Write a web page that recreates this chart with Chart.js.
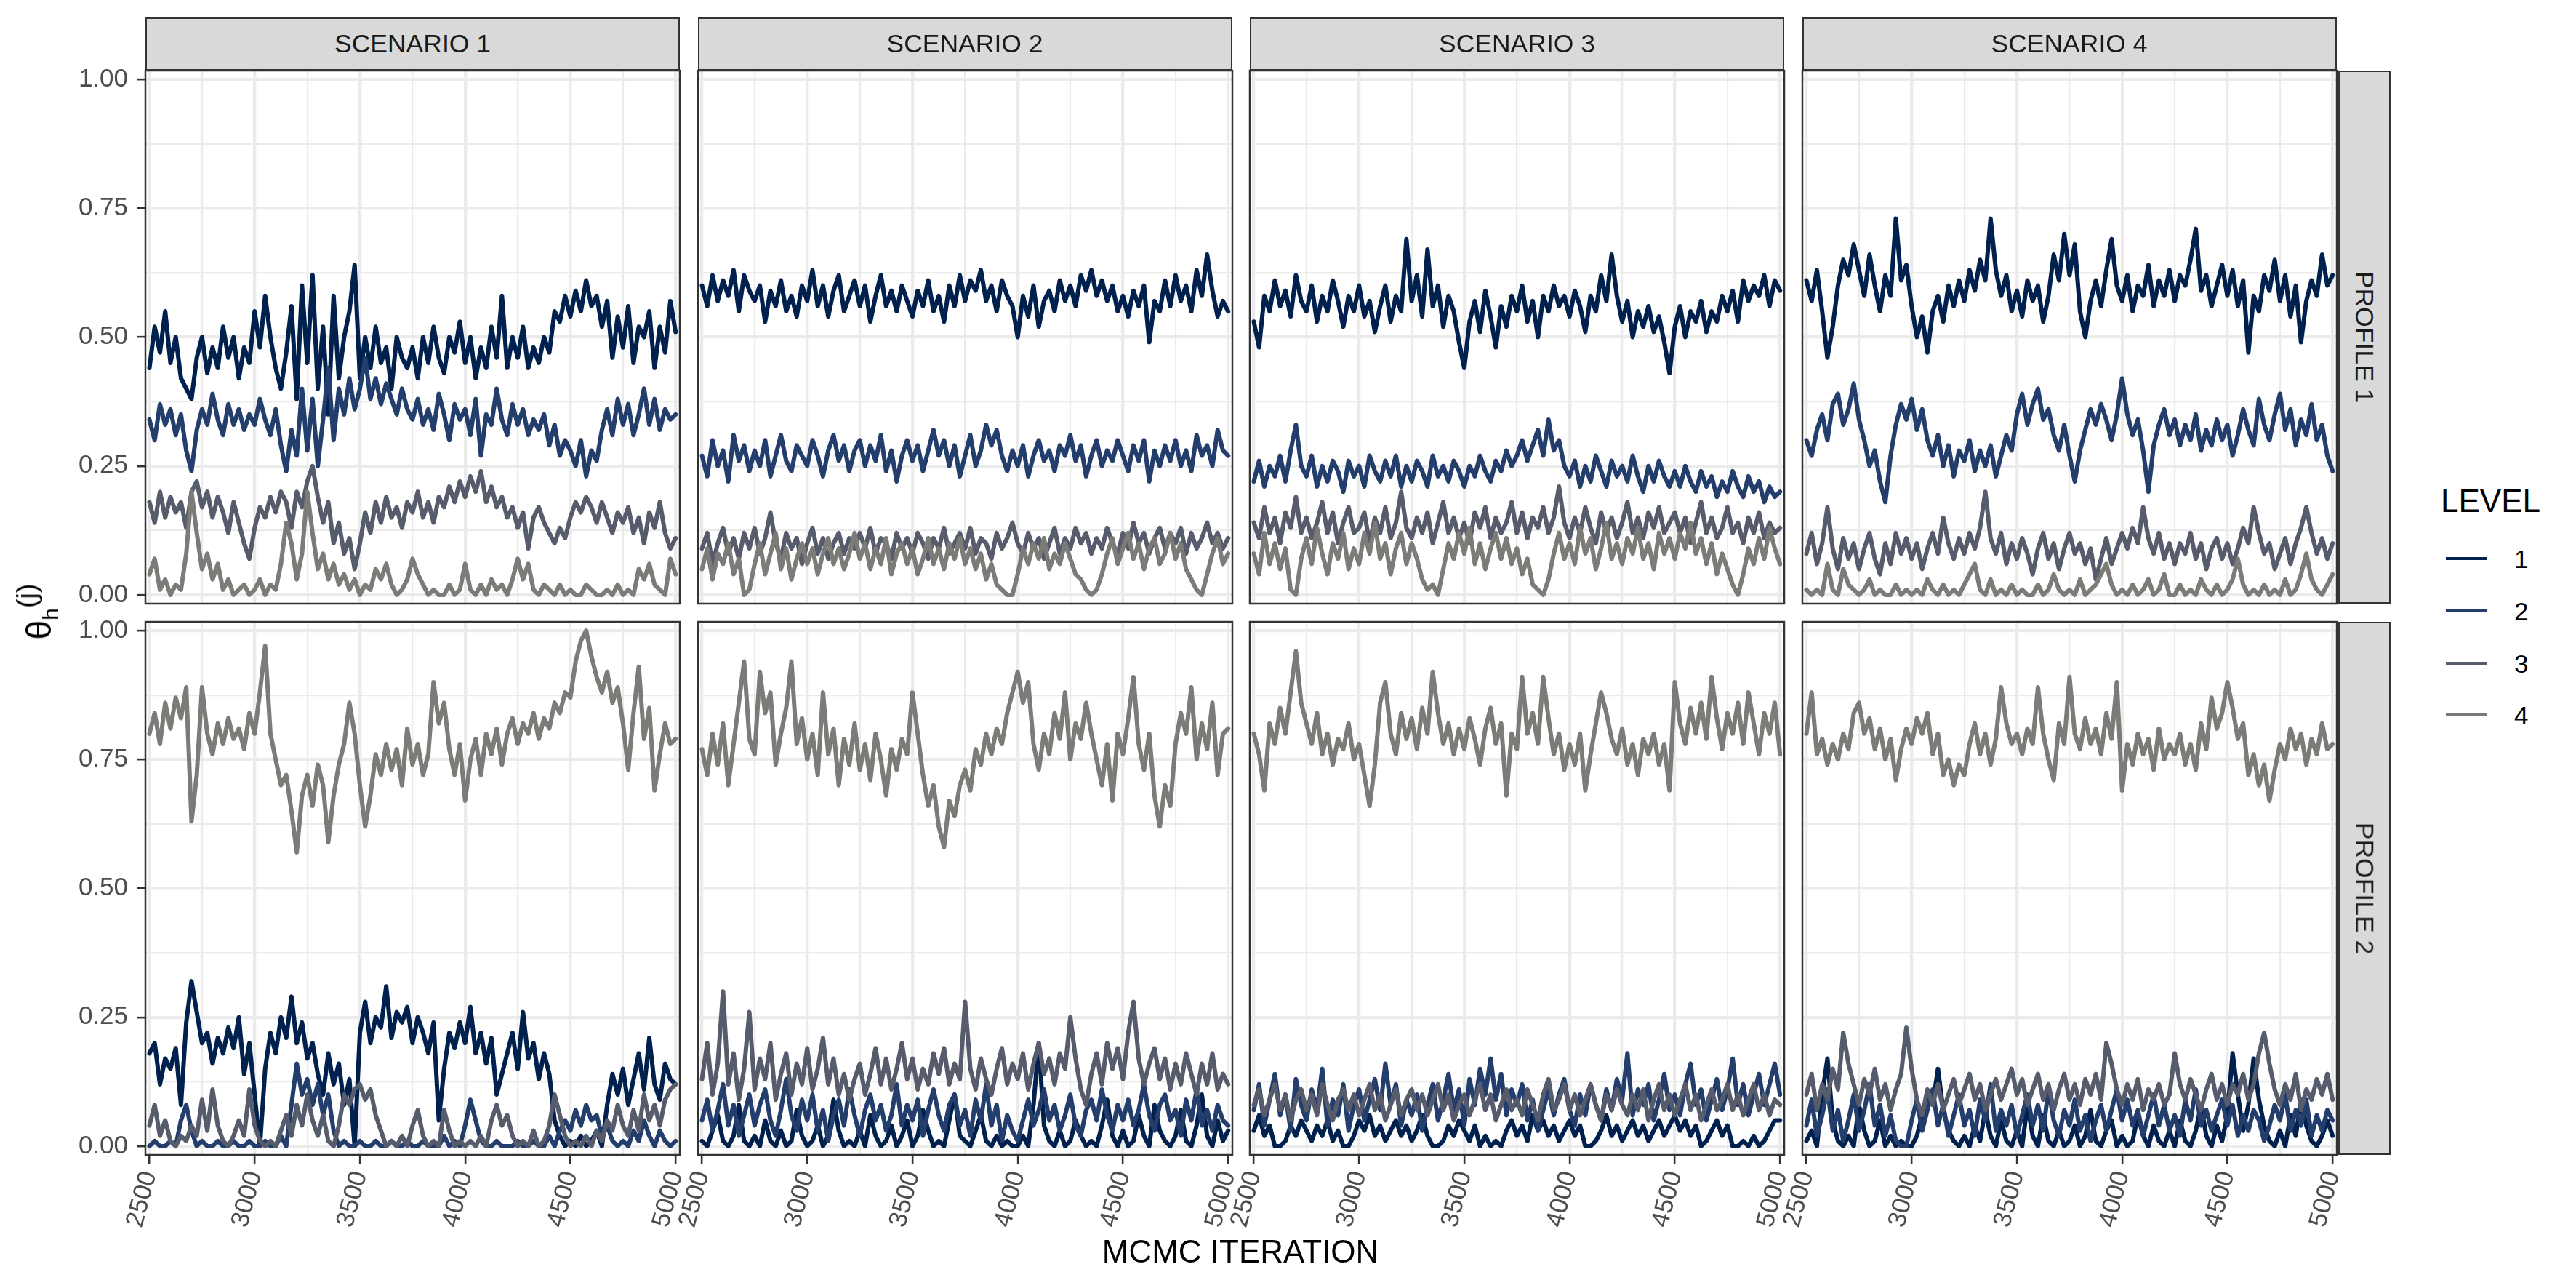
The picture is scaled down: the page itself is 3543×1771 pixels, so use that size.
<!DOCTYPE html>
<html><head><meta charset="utf-8">
<script src="https://cdn.jsdelivr.net/npm/chart.js@4.4.1/dist/chart.umd.min.js"></script>
<style>
html,body{margin:0;padding:0;background:#fff;}
#root{position:relative;width:3543px;height:1771px;overflow:hidden;background:#fff;font-family:"Liberation Sans",Arial,Helvetica,sans-serif;}
.strip{position:absolute;background:#D9D9D9;border:2.5px solid #333;box-sizing:border-box;color:#1A1A1A;font-size:35.5px;display:flex;align-items:center;justify-content:center;white-space:nowrap;}
.vstrip span{display:block;transform:rotate(90deg);}
canvas{position:absolute;}
.lg{position:absolute;white-space:nowrap;color:#000;}
</style></head>
<body><div id="root"></div>
<script>
// ---------------- DATA ----------------
const ITER = [2500,2525,2550,2575,2600,2625,2650,2675,2700,2725,2750,2775,2800,2825,2850,2875,2900,2925,2950,2975,3000,3025,3050,3075,3100,3125,3150,3175,3200,3225,3250,3275,3300,3325,3350,3375,3400,3425,3450,3475,3500,3525,3550,3575,3600,3625,3650,3675,3700,3725,3750,3775,3800,3825,3850,3875,3900,3925,3950,3975,4000,4025,4050,4075,4100,4125,4150,4175,4200,4225,4250,4275,4300,4325,4350,4375,4400,4425,4450,4475,4500,4525,4550,4575,4600,4625,4650,4675,4700,4725,4750,4775,4800,4825,4850,4875,4900,4925,4950,4975,5000];
const SCENARIOS = ["SCENARIO 1","SCENARIO 2","SCENARIO 3","SCENARIO 4"];
const PROFILES = ["PROFILE 1","PROFILE 2"];
const LEVELS = ["1","2","3","4"];
const X_TICKS = [2500,2750,3000,3250,3500,3750,4000,4250,4500,4750,5000];
const Y_TICKS = [0,0.125,0.25,0.375,0.5,0.625,0.75,0.875,1];

// Scenario 1, Profile 1
const S1P1_L1 = [0.44,0.52,0.47,0.55,0.45,0.50,0.42,0.40,0.38,0.46,0.50,0.43,0.48,0.44,0.52,0.46,0.50,0.42,0.48,0.45,0.55,0.48,0.58,0.50,0.44,0.40,0.47,0.56,0.38,0.60,0.45,0.62,0.40,0.52,0.35,0.58,0.42,0.50,0.55,0.64,0.42,0.50,0.44,0.52,0.45,0.48,0.40,0.50,0.46,0.44,0.48,0.42,0.50,0.45,0.52,0.46,0.43,0.50,0.47,0.53,0.45,0.50,0.42,0.48,0.44,0.52,0.46,0.58,0.44,0.50,0.46,0.52,0.44,0.48,0.45,0.50,0.47,0.55,0.53,0.58,0.54,0.59,0.55,0.61,0.56,0.58,0.52,0.57,0.46,0.54,0.48,0.56,0.45,0.52,0.50,0.55,0.44,0.52,0.47,0.57,0.51];
const S1P1_L2 = [0.34,0.30,0.37,0.33,0.36,0.31,0.35,0.28,0.24,0.32,0.36,0.33,0.39,0.34,0.31,0.37,0.33,0.36,0.32,0.35,0.33,0.38,0.34,0.31,0.36,0.29,0.24,0.32,0.27,0.40,0.28,0.38,0.25,0.34,0.44,0.30,0.40,0.35,0.42,0.36,0.40,0.46,0.38,0.42,0.37,0.41,0.38,0.35,0.40,0.36,0.34,0.38,0.33,0.36,0.32,0.39,0.35,0.30,0.37,0.34,0.36,0.31,0.38,0.27,0.35,0.33,0.40,0.34,0.31,0.37,0.33,0.36,0.31,0.34,0.32,0.35,0.29,0.33,0.27,0.30,0.28,0.25,0.30,0.23,0.28,0.26,0.32,0.36,0.31,0.38,0.33,0.37,0.31,0.35,0.40,0.33,0.38,0.32,0.36,0.34,0.35];
const S1P1_L3 = [0.18,0.14,0.20,0.15,0.19,0.16,0.18,0.13,0.20,0.22,0.17,0.20,0.15,0.19,0.16,0.12,0.18,0.14,0.10,0.07,0.13,0.17,0.15,0.19,0.16,0.20,0.18,0.13,0.20,0.17,0.22,0.25,0.19,0.14,0.18,0.10,0.14,0.08,0.11,0.05,0.10,0.16,0.12,0.18,0.14,0.19,0.15,0.17,0.13,0.18,0.16,0.20,0.15,0.18,0.14,0.19,0.17,0.21,0.18,0.22,0.19,0.23,0.20,0.24,0.18,0.21,0.17,0.19,0.15,0.17,0.13,0.16,0.09,0.15,0.17,0.14,0.12,0.10,0.13,0.11,0.15,0.18,0.16,0.19,0.17,0.14,0.18,0.15,0.12,0.16,0.14,0.17,0.12,0.15,0.10,0.16,0.13,0.18,0.12,0.09,0.11];
const S1P1_L4 = [0.04,0.07,0.01,0.03,0.00,0.02,0.01,0.08,0.20,0.12,0.05,0.08,0.03,0.06,0.01,0.03,0.00,0.01,0.02,0.00,0.01,0.03,0.00,0.02,0.01,0.06,0.14,0.10,0.03,0.08,0.20,0.12,0.05,0.08,0.03,0.06,0.02,0.04,0.01,0.03,0.00,0.02,0.01,0.05,0.03,0.06,0.02,0.00,0.01,0.03,0.07,0.04,0.02,0.00,0.01,0.00,0.00,0.02,0.00,0.01,0.06,0.01,0.00,0.02,0.00,0.03,0.01,0.02,0.00,0.03,0.07,0.03,0.06,0.01,0.00,0.02,0.01,0.00,0.02,0.00,0.01,0.00,0.00,0.02,0.01,0.00,0.00,0.01,0.00,0.02,0.00,0.01,0.00,0.05,0.03,0.06,0.02,0.01,0.00,0.07,0.04];
// Scenario 2, Profile 1
const S2P1_L1 = [0.60,0.56,0.62,0.57,0.61,0.58,0.63,0.55,0.62,0.59,0.57,0.60,0.53,0.59,0.56,0.61,0.55,0.58,0.54,0.60,0.57,0.63,0.56,0.60,0.54,0.59,0.62,0.55,0.58,0.61,0.56,0.60,0.53,0.58,0.62,0.56,0.59,0.55,0.60,0.57,0.54,0.59,0.56,0.61,0.55,0.58,0.53,0.60,0.56,0.62,0.57,0.61,0.59,0.63,0.57,0.60,0.55,0.61,0.58,0.56,0.50,0.58,0.54,0.60,0.52,0.57,0.59,0.55,0.61,0.57,0.60,0.56,0.62,0.59,0.63,0.58,0.61,0.57,0.60,0.55,0.58,0.54,0.59,0.56,0.60,0.49,0.57,0.55,0.61,0.56,0.62,0.57,0.60,0.55,0.63,0.58,0.66,0.59,0.54,0.57,0.55];
const S2P1_L2 = [0.27,0.23,0.30,0.25,0.28,0.22,0.31,0.26,0.29,0.24,0.28,0.25,0.30,0.23,0.27,0.31,0.26,0.24,0.29,0.27,0.25,0.30,0.27,0.23,0.28,0.31,0.26,0.29,0.24,0.28,0.30,0.25,0.29,0.26,0.31,0.24,0.28,0.22,0.27,0.30,0.26,0.29,0.24,0.28,0.32,0.27,0.30,0.25,0.29,0.23,0.27,0.31,0.25,0.28,0.33,0.29,0.32,0.27,0.24,0.28,0.25,0.29,0.23,0.27,0.30,0.26,0.28,0.24,0.29,0.27,0.31,0.26,0.29,0.23,0.27,0.30,0.25,0.28,0.26,0.30,0.27,0.24,0.29,0.26,0.30,0.22,0.28,0.25,0.29,0.26,0.30,0.25,0.28,0.24,0.31,0.27,0.29,0.25,0.32,0.28,0.27];
const S2P1_L3 = [0.09,0.12,0.06,0.10,0.13,0.08,0.11,0.07,0.12,0.09,0.13,0.08,0.11,0.16,0.10,0.07,0.12,0.09,0.11,0.06,0.10,0.13,0.08,0.11,0.07,0.10,0.12,0.08,0.11,0.09,0.12,0.09,0.13,0.08,0.11,0.10,0.07,0.12,0.09,0.11,0.08,0.12,0.10,0.07,0.11,0.09,0.13,0.08,0.10,0.12,0.09,0.13,0.08,0.11,0.10,0.07,0.12,0.09,0.11,0.14,0.10,0.08,0.12,0.09,0.11,0.07,0.10,0.13,0.08,0.11,0.09,0.13,0.10,0.12,0.08,0.11,0.09,0.13,0.10,0.08,0.12,0.09,0.14,0.10,0.12,0.08,0.11,0.13,0.09,0.12,0.10,0.13,0.08,0.12,0.09,0.11,0.14,0.10,0.12,0.09,0.11];
const S2P1_L4 = [0.05,0.09,0.03,0.08,0.06,0.10,0.04,0.07,0.00,0.01,0.06,0.10,0.04,0.08,0.12,0.05,0.09,0.03,0.07,0.10,0.06,0.09,0.04,0.08,0.11,0.06,0.09,0.05,0.08,0.12,0.07,0.10,0.05,0.09,0.06,0.11,0.04,0.08,0.10,0.06,0.09,0.04,0.07,0.11,0.06,0.09,0.05,0.10,0.07,0.11,0.06,0.09,0.05,0.08,0.03,0.06,0.02,0.01,0.00,0.00,0.04,0.09,0.06,0.10,0.07,0.11,0.05,0.08,0.06,0.10,0.07,0.04,0.03,0.01,0.00,0.01,0.04,0.08,0.11,0.06,0.09,0.12,0.07,0.10,0.05,0.09,0.11,0.06,0.08,0.12,0.07,0.10,0.05,0.03,0.01,0.00,0.04,0.08,0.11,0.06,0.08];
// Scenario 3, Profile 1
const S3P1_L1 = [0.53,0.48,0.58,0.55,0.61,0.56,0.59,0.54,0.62,0.57,0.55,0.60,0.53,0.58,0.55,0.61,0.57,0.52,0.58,0.55,0.60,0.54,0.57,0.51,0.56,0.60,0.53,0.58,0.55,0.69,0.57,0.62,0.54,0.67,0.56,0.60,0.52,0.58,0.55,0.49,0.44,0.53,0.57,0.51,0.59,0.54,0.48,0.56,0.52,0.58,0.55,0.60,0.53,0.57,0.50,0.58,0.55,0.60,0.56,0.58,0.54,0.59,0.56,0.51,0.58,0.55,0.62,0.57,0.66,0.58,0.53,0.57,0.50,0.55,0.52,0.56,0.51,0.54,0.49,0.43,0.52,0.56,0.50,0.55,0.53,0.57,0.51,0.55,0.53,0.58,0.55,0.59,0.53,0.61,0.57,0.60,0.58,0.62,0.56,0.61,0.59];
const S3P1_L2 = [0.22,0.26,0.21,0.25,0.23,0.27,0.22,0.28,0.33,0.25,0.23,0.27,0.21,0.25,0.22,0.26,0.24,0.20,0.26,0.23,0.25,0.21,0.27,0.24,0.22,0.26,0.23,0.27,0.21,0.25,0.22,0.26,0.24,0.21,0.27,0.23,0.25,0.22,0.26,0.24,0.21,0.25,0.23,0.27,0.24,0.22,0.26,0.24,0.28,0.25,0.27,0.30,0.26,0.29,0.32,0.27,0.34,0.28,0.30,0.25,0.23,0.26,0.21,0.25,0.22,0.27,0.24,0.21,0.26,0.23,0.25,0.22,0.27,0.23,0.20,0.25,0.22,0.26,0.23,0.21,0.24,0.21,0.25,0.22,0.20,0.24,0.21,0.23,0.19,0.22,0.20,0.24,0.21,0.19,0.23,0.20,0.22,0.18,0.21,0.19,0.20];
const S3P1_L3 = [0.14,0.11,0.17,0.12,0.15,0.10,0.16,0.13,0.19,0.12,0.15,0.11,0.14,0.18,0.12,0.16,0.10,0.14,0.17,0.12,0.13,0.16,0.10,0.15,0.12,0.17,0.11,0.14,0.20,0.13,0.11,0.15,0.12,0.16,0.10,0.14,0.18,0.12,0.15,0.11,0.14,0.10,0.16,0.13,0.17,0.11,0.15,0.12,0.14,0.18,0.12,0.16,0.11,0.15,0.13,0.17,0.12,0.15,0.21,0.14,0.11,0.15,0.12,0.17,0.13,0.10,0.16,0.12,0.15,0.11,0.14,0.18,0.12,0.15,0.11,0.16,0.13,0.17,0.12,0.14,0.16,0.12,0.15,0.10,0.14,0.18,0.12,0.15,0.11,0.13,0.17,0.12,0.14,0.10,0.15,0.12,0.16,0.11,0.14,0.12,0.13];
const S3P1_L4 = [0.08,0.04,0.12,0.06,0.10,0.05,0.09,0.01,0.00,0.07,0.11,0.06,0.13,0.08,0.04,0.10,0.07,0.12,0.05,0.09,0.06,0.12,0.08,0.14,0.07,0.10,0.04,0.09,0.12,0.06,0.10,0.07,0.03,0.01,0.02,0.00,0.05,0.10,0.07,0.12,0.08,0.13,0.06,0.10,0.05,0.09,0.12,0.07,0.11,0.06,0.09,0.04,0.07,0.02,0.01,0.00,0.03,0.08,0.12,0.07,0.10,0.06,0.13,0.08,0.11,0.05,0.09,0.14,0.07,0.10,0.06,0.11,0.08,0.13,0.07,0.10,0.05,0.12,0.08,0.11,0.07,0.12,0.09,0.14,0.08,0.11,0.06,0.10,0.04,0.08,0.05,0.02,0.00,0.04,0.09,0.06,0.11,0.07,0.13,0.09,0.06];
// Scenario 4, Profile 1
const S4P1_L1 = [0.61,0.57,0.63,0.55,0.46,0.52,0.60,0.65,0.62,0.68,0.63,0.58,0.66,0.60,0.55,0.62,0.58,0.73,0.61,0.64,0.56,0.50,0.54,0.47,0.55,0.58,0.53,0.60,0.56,0.61,0.57,0.63,0.59,0.65,0.61,0.73,0.63,0.58,0.62,0.55,0.59,0.54,0.61,0.57,0.60,0.53,0.58,0.66,0.61,0.70,0.62,0.68,0.55,0.50,0.57,0.61,0.56,0.63,0.69,0.60,0.57,0.62,0.55,0.60,0.58,0.64,0.56,0.61,0.58,0.63,0.57,0.62,0.60,0.65,0.71,0.59,0.62,0.56,0.60,0.64,0.58,0.63,0.56,0.61,0.47,0.58,0.55,0.62,0.59,0.65,0.57,0.62,0.54,0.60,0.49,0.57,0.61,0.58,0.66,0.60,0.62];
const S4P1_L2 = [0.30,0.27,0.32,0.35,0.30,0.37,0.39,0.33,0.36,0.41,0.34,0.30,0.25,0.28,0.22,0.18,0.27,0.33,0.37,0.34,0.38,0.32,0.36,0.30,0.27,0.31,0.25,0.29,0.23,0.28,0.26,0.30,0.24,0.28,0.25,0.29,0.23,0.27,0.31,0.28,0.35,0.39,0.33,0.37,0.40,0.34,0.36,0.31,0.28,0.33,0.27,0.22,0.28,0.32,0.36,0.33,0.37,0.34,0.30,0.35,0.42,0.35,0.31,0.34,0.28,0.20,0.29,0.33,0.36,0.31,0.34,0.29,0.33,0.30,0.35,0.28,0.32,0.29,0.34,0.30,0.33,0.27,0.31,0.36,0.32,0.29,0.38,0.33,0.30,0.35,0.39,0.32,0.36,0.29,0.34,0.31,0.37,0.30,0.33,0.27,0.24];
const S4P1_L3 = [0.08,0.12,0.06,0.10,0.17,0.09,0.05,0.11,0.07,0.10,0.05,0.09,0.12,0.07,0.04,0.10,0.06,0.12,0.08,0.11,0.07,0.10,0.05,0.09,0.12,0.08,0.15,0.10,0.07,0.11,0.08,0.12,0.09,0.13,0.20,0.11,0.08,0.12,0.06,0.10,0.07,0.11,0.08,0.04,0.09,0.12,0.07,0.10,0.05,0.09,0.12,0.08,0.10,0.06,0.09,0.03,0.07,0.11,0.06,0.09,0.12,0.09,0.13,0.10,0.17,0.11,0.08,0.12,0.07,0.10,0.06,0.10,0.08,0.12,0.07,0.10,0.05,0.09,0.11,0.07,0.10,0.06,0.09,0.13,0.10,0.17,0.12,0.08,0.10,0.05,0.08,0.11,0.06,0.10,0.13,0.17,0.12,0.08,0.11,0.07,0.10];
const S4P1_L4 = [0.01,0.00,0.01,0.00,0.06,0.01,0.00,0.05,0.02,0.01,0.00,0.01,0.03,0.00,0.01,0.00,0.00,0.02,0.00,0.01,0.00,0.01,0.00,0.03,0.01,0.00,0.02,0.00,0.01,0.00,0.02,0.04,0.06,0.01,0.00,0.03,0.00,0.01,0.00,0.02,0.00,0.01,0.00,0.00,0.02,0.00,0.01,0.04,0.01,0.00,0.01,0.00,0.03,0.00,0.01,0.02,0.04,0.06,0.02,0.00,0.01,0.00,0.02,0.00,0.01,0.03,0.00,0.01,0.04,0.00,0.00,0.02,0.00,0.01,0.00,0.03,0.01,0.00,0.02,0.00,0.01,0.03,0.07,0.02,0.00,0.01,0.00,0.02,0.00,0.01,0.00,0.03,0.00,0.01,0.04,0.08,0.03,0.01,0.00,0.02,0.04];
// Scenario 1, Profile 2
const S1P2_L1 = [0.18,0.20,0.12,0.17,0.15,0.19,0.08,0.24,0.32,0.26,0.20,0.22,0.16,0.21,0.18,0.23,0.19,0.25,0.14,0.20,0.10,0.00,0.15,0.22,0.18,0.25,0.21,0.29,0.20,0.24,0.17,0.20,0.14,0.10,0.18,0.12,0.16,0.08,0.13,0.00,0.22,0.28,0.20,0.25,0.23,0.31,0.21,0.26,0.24,0.27,0.20,0.25,0.22,0.18,0.24,0.05,0.15,0.22,0.19,0.24,0.20,0.27,0.18,0.22,0.16,0.21,0.10,0.14,0.18,0.22,0.15,0.26,0.17,0.20,0.13,0.18,0.14,0.05,0.02,0.00,0.01,0.00,0.02,0.00,0.01,0.03,0.00,0.08,0.14,0.10,0.15,0.08,0.13,0.18,0.11,0.21,0.12,0.09,0.16,0.13,0.12];
const S1P2_L2 = [0.00,0.01,0.00,0.00,0.01,0.00,0.05,0.08,0.03,0.00,0.01,0.00,0.00,0.01,0.00,0.00,0.01,0.00,0.00,0.01,0.00,0.00,0.01,0.00,0.00,0.02,0.00,0.08,0.16,0.10,0.13,0.08,0.12,0.06,0.10,0.03,0.00,0.01,0.00,0.00,0.01,0.00,0.00,0.01,0.00,0.00,0.01,0.00,0.00,0.01,0.00,0.00,0.01,0.00,0.00,0.00,0.02,0.00,0.01,0.00,0.04,0.09,0.05,0.01,0.00,0.00,0.01,0.00,0.00,0.00,0.01,0.00,0.00,0.01,0.00,0.00,0.02,0.00,0.03,0.05,0.03,0.07,0.04,0.08,0.05,0.06,0.02,0.04,0.01,0.00,0.01,0.00,0.03,0.01,0.05,0.02,0.00,0.03,0.01,0.00,0.01];
const S1P2_L3 = [0.04,0.08,0.02,0.05,0.01,0.00,0.02,0.01,0.04,0.02,0.09,0.03,0.11,0.04,0.01,0.00,0.02,0.05,0.02,0.11,0.04,0.01,0.00,0.01,0.00,0.03,0.06,0.02,0.08,0.04,0.10,0.05,0.02,0.06,0.01,0.00,0.04,0.10,0.08,0.11,0.12,0.09,0.11,0.06,0.03,0.00,0.01,0.00,0.02,0.00,0.04,0.07,0.02,0.00,0.01,0.00,0.07,0.03,0.00,0.01,0.00,0.01,0.00,0.02,0.00,0.05,0.08,0.04,0.06,0.02,0.00,0.01,0.00,0.03,0.00,0.01,0.04,0.10,0.06,0.02,0.00,0.01,0.00,0.02,0.00,0.03,0.01,0.05,0.03,0.08,0.04,0.02,0.07,0.03,0.10,0.05,0.08,0.04,0.09,0.11,0.12];
const S1P2_L4 = [0.80,0.84,0.78,0.86,0.81,0.87,0.83,0.89,0.63,0.72,0.89,0.80,0.76,0.82,0.78,0.83,0.79,0.81,0.77,0.84,0.80,0.88,0.97,0.80,0.75,0.70,0.72,0.65,0.57,0.68,0.72,0.66,0.74,0.70,0.59,0.68,0.74,0.78,0.86,0.80,0.70,0.62,0.68,0.76,0.72,0.78,0.73,0.77,0.70,0.81,0.74,0.78,0.72,0.76,0.90,0.82,0.86,0.77,0.72,0.78,0.67,0.75,0.79,0.72,0.80,0.76,0.81,0.74,0.80,0.83,0.78,0.82,0.80,0.84,0.79,0.83,0.81,0.86,0.84,0.88,0.87,0.94,0.98,1.00,0.95,0.91,0.88,0.92,0.86,0.89,0.82,0.73,0.84,0.93,0.79,0.85,0.69,0.76,0.82,0.78,0.79];
// Scenario 2, Profile 2
const S2P2_L1 = [0.01,0.00,0.03,0.06,0.01,0.00,0.02,0.08,0.01,0.00,0.02,0.00,0.05,0.01,0.00,0.03,0.00,0.01,0.07,0.02,0.00,0.01,0.04,0.00,0.02,0.09,0.03,0.00,0.01,0.00,0.03,0.00,0.06,0.02,0.00,0.01,0.04,0.00,0.02,0.05,0.00,0.02,0.07,0.03,0.00,0.01,0.00,0.05,0.10,0.02,0.01,0.00,0.03,0.06,0.01,0.00,0.02,0.00,0.01,0.00,0.00,0.02,0.00,0.08,0.20,0.04,0.01,0.00,0.03,0.00,0.01,0.05,0.02,0.00,0.01,0.00,0.04,0.09,0.02,0.00,0.03,0.00,0.01,0.06,0.02,0.00,0.08,0.03,0.01,0.00,0.02,0.07,0.01,0.00,0.04,0.10,0.02,0.00,0.05,0.01,0.03];
const S2P2_L2 = [0.05,0.09,0.03,0.07,0.12,0.04,0.08,0.02,0.06,0.10,0.04,0.08,0.11,0.05,0.02,0.07,0.13,0.06,0.03,0.09,0.05,0.10,0.03,0.07,0.01,0.06,0.09,0.04,0.11,0.06,0.02,0.07,0.10,0.05,0.08,0.03,0.06,0.12,0.04,0.08,0.05,0.09,0.02,0.07,0.11,0.06,0.03,0.08,0.10,0.04,0.07,0.02,0.09,0.05,0.12,0.04,0.08,0.01,0.06,0.03,0.01,0.05,0.09,0.04,0.07,0.11,0.05,0.08,0.03,0.06,0.10,0.04,0.02,0.07,0.09,0.05,0.11,0.06,0.03,0.08,0.05,0.09,0.04,0.07,0.12,0.06,0.03,0.08,0.10,0.05,0.07,0.02,0.09,0.05,0.11,0.04,0.07,0.03,0.08,0.05,0.04];
const S2P2_L3 = [0.13,0.20,0.10,0.16,0.30,0.12,0.18,0.09,0.15,0.26,0.11,0.17,0.13,0.20,0.09,0.14,0.18,0.10,0.16,0.12,0.19,0.11,0.15,0.21,0.12,0.17,0.10,0.14,0.09,0.13,0.16,0.10,0.14,0.19,0.12,0.17,0.11,0.15,0.20,0.13,0.17,0.11,0.15,0.12,0.18,0.14,0.19,0.12,0.16,0.13,0.28,0.15,0.11,0.17,0.13,0.10,0.15,0.19,0.12,0.16,0.13,0.18,0.11,0.16,0.20,0.14,0.17,0.12,0.18,0.15,0.25,0.17,0.11,0.08,0.14,0.18,0.12,0.20,0.15,0.19,0.13,0.22,0.28,0.17,0.12,0.16,0.19,0.13,0.17,0.11,0.16,0.12,0.18,0.14,0.10,0.16,0.12,0.18,0.11,0.14,0.12];
const S2P2_L4 = [0.77,0.72,0.80,0.74,0.82,0.70,0.78,0.86,0.94,0.79,0.76,0.92,0.84,0.88,0.74,0.80,0.85,0.94,0.78,0.83,0.75,0.80,0.72,0.88,0.76,0.81,0.70,0.79,0.74,0.82,0.73,0.78,0.71,0.80,0.75,0.68,0.77,0.73,0.79,0.76,0.88,0.80,0.72,0.66,0.70,0.62,0.58,0.67,0.64,0.70,0.73,0.69,0.77,0.74,0.80,0.76,0.81,0.78,0.84,0.88,0.92,0.86,0.90,0.78,0.73,0.80,0.76,0.84,0.79,0.88,0.75,0.82,0.79,0.86,0.80,0.75,0.70,0.78,0.67,0.80,0.76,0.83,0.91,0.78,0.73,0.80,0.68,0.62,0.70,0.66,0.78,0.84,0.80,0.89,0.75,0.82,0.77,0.86,0.72,0.80,0.81];
// Scenario 3, Profile 2
const S3P2_L1 = [0.03,0.06,0.02,0.04,0.00,0.00,0.01,0.04,0.02,0.05,0.03,0.01,0.04,0.02,0.05,0.01,0.03,0.00,0.00,0.02,0.05,0.03,0.06,0.02,0.04,0.01,0.03,0.05,0.02,0.04,0.01,0.03,0.06,0.02,0.00,0.00,0.01,0.04,0.02,0.05,0.03,0.01,0.04,0.00,0.02,0.00,0.01,0.00,0.03,0.05,0.02,0.04,0.01,0.06,0.03,0.05,0.02,0.04,0.01,0.03,0.05,0.02,0.04,0.00,0.00,0.01,0.03,0.06,0.02,0.04,0.01,0.03,0.05,0.02,0.04,0.01,0.03,0.05,0.02,0.04,0.06,0.03,0.05,0.02,0.04,0.00,0.01,0.03,0.05,0.02,0.04,0.00,0.00,0.01,0.00,0.02,0.00,0.01,0.03,0.05,0.05];
const S3P2_L2 = [0.07,0.12,0.04,0.09,0.14,0.06,0.10,0.03,0.13,0.08,0.05,0.11,0.07,0.15,0.04,0.09,0.06,0.12,0.03,0.08,0.11,0.05,0.09,0.13,0.07,0.16,0.08,0.12,0.04,0.09,0.06,0.10,0.03,0.08,0.12,0.05,0.09,0.14,0.07,0.11,0.04,0.13,0.08,0.15,0.10,0.17,0.09,0.14,0.06,0.11,0.08,0.12,0.05,0.09,0.03,0.07,0.11,0.06,0.10,0.13,0.07,0.04,0.10,0.06,0.12,0.08,0.05,0.11,0.07,0.13,0.09,0.18,0.06,0.11,0.08,0.12,0.05,0.09,0.14,0.07,0.10,0.06,0.12,0.16,0.08,0.11,0.05,0.09,0.13,0.07,0.11,0.17,0.08,0.12,0.06,0.10,0.14,0.08,0.12,0.16,0.10];
const S3P2_L3 = [0.08,0.11,0.06,0.09,0.12,0.07,0.10,0.05,0.09,0.11,0.07,0.10,0.06,0.12,0.08,0.05,0.09,0.11,0.07,0.10,0.06,0.09,0.12,0.07,0.10,0.05,0.08,0.11,0.06,0.09,0.11,0.07,0.10,0.06,0.09,0.12,0.07,0.10,0.05,0.08,0.10,0.06,0.09,0.12,0.07,0.10,0.05,0.08,0.11,0.07,0.09,0.06,0.11,0.08,0.05,0.10,0.13,0.07,0.09,0.12,0.07,0.10,0.06,0.09,0.12,0.08,0.05,0.10,0.07,0.11,0.08,0.06,0.10,0.07,0.11,0.05,0.09,0.12,0.07,0.10,0.06,0.09,0.12,0.07,0.10,0.05,0.08,0.11,0.07,0.09,0.12,0.07,0.10,0.06,0.09,0.12,0.07,0.10,0.06,0.09,0.08];
const S3P2_L4 = [0.80,0.76,0.69,0.82,0.78,0.85,0.80,0.88,0.96,0.86,0.82,0.78,0.84,0.76,0.80,0.74,0.79,0.77,0.82,0.75,0.78,0.72,0.66,0.74,0.86,0.90,0.80,0.76,0.84,0.79,0.83,0.77,0.85,0.80,0.92,0.84,0.78,0.82,0.76,0.81,0.77,0.83,0.79,0.74,0.81,0.85,0.78,0.82,0.68,0.80,0.77,0.91,0.80,0.84,0.78,0.91,0.83,0.76,0.80,0.73,0.78,0.74,0.80,0.69,0.76,0.82,0.88,0.84,0.79,0.76,0.81,0.74,0.78,0.72,0.79,0.76,0.80,0.74,0.78,0.69,0.90,0.82,0.78,0.85,0.80,0.86,0.79,0.91,0.83,0.77,0.84,0.80,0.86,0.78,0.88,0.82,0.76,0.84,0.80,0.86,0.76];
// Scenario 4, Profile 2
const S4P2_L1 = [0.01,0.03,0.00,0.10,0.17,0.05,0.01,0.00,0.02,0.00,0.08,0.03,0.00,0.01,0.05,0.00,0.02,0.00,0.01,0.00,0.00,0.02,0.06,0.10,0.08,0.15,0.07,0.03,0.01,0.00,0.02,0.00,0.04,0.01,0.07,0.02,0.00,0.05,0.01,0.00,0.03,0.00,0.08,0.02,0.00,0.06,0.01,0.00,0.03,0.00,0.01,0.04,0.00,0.02,0.07,0.01,0.00,0.03,0.05,0.00,0.02,0.00,0.01,0.06,0.02,0.00,0.04,0.01,0.00,0.03,0.00,0.05,0.01,0.00,0.03,0.08,0.02,0.00,0.04,0.01,0.06,0.18,0.10,0.03,0.08,0.17,0.09,0.04,0.01,0.00,0.03,0.00,0.06,0.02,0.09,0.04,0.01,0.00,0.02,0.05,0.02];
const S4P2_L2 = [0.04,0.09,0.02,0.06,0.11,0.03,0.07,0.01,0.05,0.10,0.03,0.07,0.12,0.04,0.08,0.02,0.06,0.01,0.00,0.00,0.05,0.09,0.03,0.07,0.11,0.04,0.08,0.02,0.06,0.10,0.04,0.07,0.02,0.09,0.05,0.12,0.03,0.07,0.04,0.08,0.02,0.06,0.10,0.04,0.08,0.03,0.11,0.05,0.02,0.07,0.04,0.09,0.03,0.06,0.01,0.05,0.08,0.03,0.07,0.11,0.05,0.09,0.04,0.07,0.02,0.06,0.10,0.04,0.08,0.03,0.06,0.02,0.09,0.05,0.11,0.04,0.07,0.03,0.06,0.09,0.04,0.08,0.02,0.06,0.03,0.07,0.05,0.01,0.04,0.08,0.05,0.10,0.03,0.07,0.04,0.09,0.02,0.06,0.03,0.07,0.05];
const S4P2_L3 = [0.10,0.14,0.07,0.12,0.09,0.15,0.11,0.22,0.16,0.12,0.08,0.13,0.10,0.15,0.09,0.12,0.07,0.11,0.14,0.23,0.15,0.09,0.06,0.11,0.08,0.12,0.07,0.10,0.13,0.08,0.11,0.14,0.09,0.12,0.07,0.10,0.13,0.09,0.12,0.15,0.10,0.13,0.08,0.11,0.14,0.09,0.12,0.07,0.11,0.14,0.09,0.12,0.08,0.13,0.10,0.14,0.09,0.20,0.16,0.11,0.08,0.12,0.09,0.13,0.07,0.11,0.09,0.12,0.08,0.10,0.18,0.12,0.09,0.13,0.10,0.07,0.11,0.14,0.09,0.12,0.08,0.12,0.10,0.14,0.09,0.12,0.18,0.22,0.16,0.11,0.08,0.12,0.09,0.14,0.07,0.11,0.09,0.13,0.10,0.14,0.09];
const S4P2_L4 = [0.80,0.88,0.76,0.79,0.74,0.78,0.75,0.80,0.77,0.84,0.86,0.80,0.83,0.77,0.81,0.75,0.79,0.71,0.77,0.81,0.78,0.83,0.80,0.84,0.76,0.80,0.72,0.75,0.70,0.74,0.72,0.78,0.82,0.76,0.80,0.74,0.79,0.89,0.82,0.78,0.80,0.76,0.81,0.78,0.89,0.80,0.75,0.71,0.82,0.78,0.91,0.80,0.77,0.83,0.78,0.81,0.76,0.84,0.79,0.90,0.69,0.78,0.74,0.80,0.76,0.79,0.73,0.81,0.75,0.78,0.76,0.80,0.74,0.78,0.73,0.82,0.77,0.87,0.81,0.84,0.90,0.85,0.79,0.82,0.72,0.76,0.70,0.74,0.67,0.73,0.78,0.75,0.81,0.77,0.80,0.74,0.79,0.76,0.82,0.77,0.78];

const GRID = [
  [[S1P1_L1,S1P1_L2,S1P1_L3,S1P1_L4],[S2P1_L1,S2P1_L2,S2P1_L3,S2P1_L4],[S3P1_L1,S3P1_L2,S3P1_L3,S3P1_L4],[S4P1_L1,S4P1_L2,S4P1_L3,S4P1_L4]],
  [[S1P2_L1,S1P2_L2,S1P2_L3,S1P2_L4],[S2P2_L1,S2P2_L2,S2P2_L3,S2P2_L4],[S3P2_L1,S3P2_L2,S3P2_L3,S3P2_L4],[S4P2_L1,S4P2_L2,S4P2_L3,S4P2_L4]]
];

// ---------------- STYLE / LAYOUT ----------------
const COLORS = ["#00204D","#233E6C","#575C6D","#7C7B78"];
const FONT = '"Liberation Sans", Arial, Helvetica, sans-serif';
const COL_X = [200, 959.5, 1719, 2478.5];
const ROW_Y = [96.5, 855];
const PW = 735, PH = 733;
const ML = [200, 40, 40, 40], MR = 30, MT = 10, MB = [10, 140];

const root = document.getElementById('root');

const frame = {
  id: 'frame',
  afterDraw(chart) {
    const {ctx, chartArea: a} = chart;
    ctx.save();
    ctx.strokeStyle = '#333333';
    ctx.lineWidth = 2.5;
    ctx.strokeRect(a.left, a.top, a.right - a.left, a.bottom - a.top);
    ctx.restore();
  }
};

for (let r = 0; r < 2; r++) {
  for (let c = 0; c < 4; c++) {
    const cv = document.createElement('canvas');
    const w = ML[c] + PW + MR, h = MT + PH + MB[r];
    cv.width = w; cv.height = h;
    cv.style.left = (COL_X[c] - ML[c]) + 'px';
    cv.style.top = (ROW_Y[r] - MT) + 'px';
    cv.style.width = w + 'px'; cv.style.height = h + 'px';
    root.appendChild(cv);
    const series = GRID[r][c];
    const showY = c === 0, showX = r === 1;
    new Chart(cv, {
      type: 'line',
      data: {
        datasets: series.map((arr, k) => ({
          label: LEVELS[k],
          data: ITER.map((x, i) => ({x: x, y: arr[i]})),
          borderColor: COLORS[k],
          borderWidth: 6,
          pointRadius: 0,
          tension: 0,
          borderJoinStyle: 'round',
          borderCapStyle: 'round',
          order: 4 - k
        }))
      },
      options: {
        responsive: false, animation: false, devicePixelRatio: 1,
        layout: {padding: {left: 0, right: MR, top: MT, bottom: r === 0 ? MB[0] : 0}},
        plugins: {legend: {display: false}, tooltip: {enabled: false}},
        scales: {
          x: {
            type: 'linear', min: 2481, max: 5020,
            afterBuildTicks: s => { s.ticks = X_TICKS.map(v => ({value: v})); },
            afterFit: s => { s.height = showX ? MB[1] : 0; s.paddingLeft = 0; s.paddingRight = 0; },
            border: {display: false},
            grid: {
              color: '#EBEBEB',
              lineWidth: ctx => (ctx.index % 2 === 0 ? 4.3 : 2.2),
              drawTicks: showX, tickLength: 12,
              tickColor: ctx => (ctx.index % 2 === 0 ? '#333333' : 'rgba(0,0,0,0)'),
              tickWidth: 2.6
            },
            ticks: {
              display: showX, autoSkip: false, minRotation: 75, maxRotation: 75, padding: 6,
              color: '#4D4D4D', font: {family: FONT, size: 35},
              callback: (v, i) => (i % 2 === 0 ? String(v) : '')
            }
          },
          y: {
            type: 'linear', min: -0.017, max: 1.017,
            afterBuildTicks: s => { s.ticks = Y_TICKS.map(v => ({value: v})); },
            afterFit: s => { s.width = ML[c]; s.paddingTop = 0; s.paddingBottom = 0; },
            border: {display: false},
            grid: {
              color: '#EBEBEB',
              lineWidth: ctx => (ctx.index % 2 === 0 ? 4.3 : 2.2),
              drawTicks: showY, tickLength: 12,
              tickColor: ctx => (ctx.index % 2 === 0 ? '#333333' : 'rgba(0,0,0,0)'),
              tickWidth: 2.6
            },
            ticks: {
              display: showY, autoSkip: false, padding: 12,
              color: '#4D4D4D', font: {family: FONT, size: 35},
              callback: (v, i) => (i % 2 === 0 ? v.toFixed(2) : '')
            }
          }
        }
      },
      plugins: [frame]
    });
  }
}

// strips
SCENARIOS.forEach((s, c) => {
  const d = document.createElement('div');
  d.className = 'strip';
  d.style.left = COL_X[c] + 'px'; d.style.top = '24px';
  d.style.width = PW + 'px'; d.style.height = '72.5px';
  d.textContent = s;
  root.appendChild(d);
});
PROFILES.forEach((p, r) => {
  const d = document.createElement('div');
  d.className = 'strip vstrip';
  d.style.left = '3215.5px'; d.style.top = ROW_Y[r] + 'px';
  d.style.width = '72px'; d.style.height = PH + 'px';
  const sp = document.createElement('span'); sp.textContent = p;
  d.appendChild(sp);
  root.appendChild(d);
});

// axis titles
const yt = document.createElement('div');
yt.className = 'lg';
yt.style.cssText += 'left:54px;top:841px;transform:translate(-50%,-50%) rotate(-90deg);line-height:1;font-size:48px;';
yt.innerHTML = 'θ<span style="font-size:30px;position:relative;top:10px;">h</span><span style="font-size:38px;position:relative;top:-20px;">(j)</span>';
root.appendChild(yt);

const xt = document.createElement('div');
xt.className = 'lg';
xt.style.cssText += 'left:1706px;top:1721px;transform:translate(-50%,-50%);line-height:1;font-size:44px;';
xt.textContent = 'MCMC ITERATION';
root.appendChild(xt);

// legend
const lt = document.createElement('div');
lt.className = 'lg';
lt.style.cssText += 'left:3357px;top:689px;transform:translateY(-50%);line-height:1;font-size:44px;';
lt.textContent = 'LEVEL';
root.appendChild(lt);
const LEG_Y = [768, 840, 912, 983];
LEVELS.forEach((lv, k) => {
  const ln = document.createElement('div');
  ln.style.cssText = 'position:absolute;left:3364px;width:56px;height:4.5px;background:' + COLORS[k] + ';top:' + (LEG_Y[k] - 2.25) + 'px;';
  root.appendChild(ln);
  const tx = document.createElement('div');
  tx.className = 'lg';
  tx.style.cssText += 'left:3458px;top:' + LEG_Y[k] + 'px;transform:translateY(-50%);line-height:1;font-size:35px;';
  tx.textContent = lv;
  root.appendChild(tx);
});
</script>
</body></html>
